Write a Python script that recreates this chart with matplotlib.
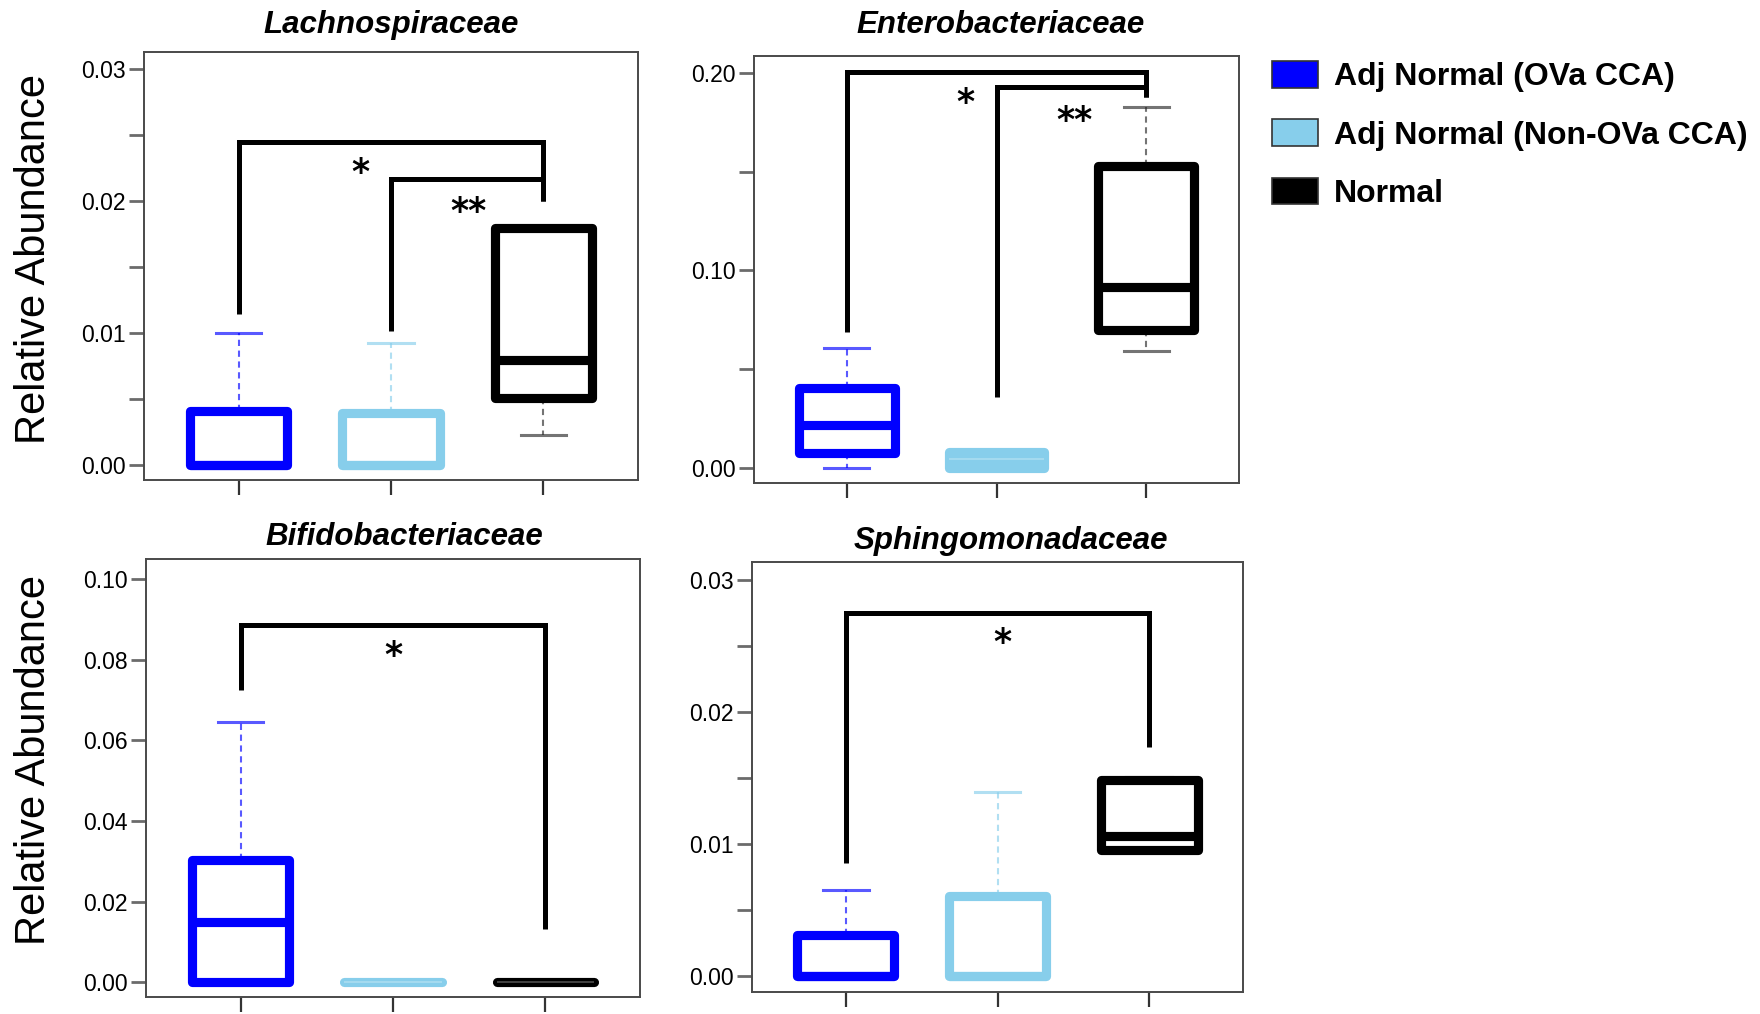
import matplotlib
matplotlib.use("Agg")
import matplotlib.pyplot as plt
from matplotlib.patches import Patch
from matplotlib.colors import to_rgb
from matplotlib.ticker import FixedLocator, FormatStrFormatter

plt.rcParams["font.family"] = ["Liberation Sans", "DejaVu Sans"]

# ---- data -------------------------------------------------------------
groups = ["Adj Normal (OVa CCA)", "Adj Normal (Non-OVa CCA)", "Normal"]
group_colors = ["#0000FF", "#87CEEB", "#000000"]
families = ["Lachnospiraceae", "Enterobacteriaceae",
            "Bifidobacteriaceae", "Sphingomonadaceae"]

# box summaries per family: lower whisker, Q1, median, Q3, upper whisker
lachno_whislo = [0.0, 0.0, 0.0023]
lachno_q1 = [0.0, 0.0, 0.0051]
lachno_med = [0.0, 0.0, 0.0080]
lachno_q3 = [0.0041, 0.0040, 0.0180]
lachno_whishi = [0.0100, 0.0093, 0.0180]

entero_whislo = [0.0, 0.0, 0.059]
entero_q1 = [0.0075, 0.0, 0.070]
entero_med = [0.022, 0.0045, 0.0914]
entero_q3 = [0.0405, 0.008, 0.153]
entero_whishi = [0.061, 0.008, 0.183]

bifido_whislo = [0.0, 0.0, 0.0]
bifido_q1 = [0.0, 0.0, 0.0]
bifido_med = [0.015, 0.0, 0.0]
bifido_q3 = [0.0304, 0.0, 0.0]
bifido_whishi = [0.0646, 0.0, 0.0]

sphingo_whislo = [0.0, 0.0, 0.0096]
sphingo_q1 = [0.0, 0.0, 0.0096]
sphingo_med = [0.0, 0.0, 0.0106]
sphingo_q3 = [0.0031, 0.0061, 0.0149]
sphingo_whishi = [0.0065, 0.0140, 0.0151]

# significance brackets: (left group, right group, left foot, top, right foot)
lachno_brackets = [(1, 3, 0.0115, 0.0245, 0.0200), (2, 3, 0.0102, 0.0217, 0.0200)]
lachno_stars = [("*", 1.80, 0.0228), ("**", 2.51, 0.0198)]
entero_brackets = [(1, 3, 0.069, 0.2006, 0.188), (2, 3, 0.036, 0.193, 0.188)]
entero_stars = [("*", 1.79, 0.189), ("**", 2.52, 0.180)]
bifido_brackets = [(1, 3, 0.0724, 0.0886, 0.0131)]
bifido_stars = [("*", 2.0, 0.083)]
sphingo_brackets = [(1, 3, 0.0086, 0.0275, 0.0174)]
sphingo_stars = [("*", 2.03, 0.0259)]

# axis setup per panel
lachno_major = [0.0, 0.01, 0.02, 0.03]
lachno_minor = [0.005, 0.015, 0.025]
entero_major = [0.0, 0.10, 0.20]
entero_minor = [0.05, 0.15]
bifido_major = [0.0, 0.02, 0.04, 0.06, 0.08, 0.10]
bifido_minor = []
sphingo_major = [0.0, 0.01, 0.02, 0.03]
sphingo_minor = [0.005, 0.015, 0.025]

panels = [
    dict(title=families[0], whislo=lachno_whislo, q1=lachno_q1, med=lachno_med,
         q3=lachno_q3, whishi=lachno_whishi, brackets=lachno_brackets,
         stars=lachno_stars, major=lachno_major, minor=lachno_minor,
         ylim=(-0.0011, 0.0313), rect=(144, 52, 638, 480), title_dx=0.0,
         title_y=25),
    dict(title=families[1], whislo=entero_whislo, q1=entero_q1, med=entero_med,
         q3=entero_q3, whishi=entero_whishi, brackets=entero_brackets,
         stars=entero_stars, major=entero_major, minor=entero_minor,
         ylim=(-0.0076, 0.2086), rect=(754, 56, 1239, 483), title_dx=4,
         title_y=25),
    dict(title=families[2], whislo=bifido_whislo, q1=bifido_q1, med=bifido_med,
         q3=bifido_q3, whishi=bifido_whishi, brackets=bifido_brackets,
         stars=bifido_stars, major=bifido_major, minor=bifido_minor,
         ylim=(-0.0037, 0.105), rect=(146, 559, 640, 997), title_dx=11,
         title_y=537),
    dict(title=families[3], whislo=sphingo_whislo, q1=sphingo_q1, med=sphingo_med,
         q3=sphingo_q3, whishi=sphingo_whishi, brackets=sphingo_brackets,
         stars=sphingo_stars, major=sphingo_major, minor=sphingo_minor,
         ylim=(-0.0012, 0.0314), rect=(752, 562, 1243, 992), title_dx=13,
         title_y=541),
]

W, H = 1760, 1014
fig = plt.figure(figsize=(W / 100, H / 100), dpi=100)


def lighten(c, amt):
    r, g, b = to_rgb(c)
    return (r + (1 - r) * amt, g + (1 - g) * amt, b + (1 - b) * amt)


BOX_LW = 6.6
for p in panels:
    l, t, r, b = p["rect"]
    ax = fig.add_axes([l / W, 1 - b / H, (r - l) / W, (b - t) / H])
    stats = []
    for i in range(3):
        stats.append(dict(med=p["med"][i], q1=p["q1"][i], q3=p["q3"][i],
                          whislo=p["whislo"][i], whishi=p["whishi"][i],
                          fliers=[]))
    art = ax.bxp(stats, positions=[1, 2, 3], widths=0.64, capwidths=0.3,
                 patch_artist=True, showfliers=False)
    yrange = p["ylim"][1] - p["ylim"][0]
    for i, col in enumerate(group_colors):
        box = art["boxes"][i]
        thin = (p["q3"][i] - p["q1"][i]) < 0.05 * yrange
        box.set_facecolor(col if thin else "white")
        box.set_edgecolor(col)
        box.set_linewidth(BOX_LW)
        box.set_joinstyle("round")
        box.set_capstyle("round")
        box.set_zorder(3)
        med = art["medians"][i]
        med.set_color(lighten(col, 0.3) if thin else col)
        med.set_linewidth(BOX_LW if not thin else 1.2)
        med.set_solid_capstyle("butt")
        med.set_zorder(4)
        wcol = col if col != "#000000" else "#2a2a2a"
        for w in art["whiskers"][2 * i:2 * i + 2]:
            w.set_color(wcol)
            w.set_alpha(0.65)
            w.set_linewidth(1.5)
            w.set_linestyle((0, (3, 2.2)))
            w.set_zorder(2)
        for c in art["caps"][2 * i:2 * i + 2]:
            c.set_color(wcol)
            c.set_alpha(0.65)
            c.set_linewidth(2.2)
            c.set_zorder(2)

    for (g1, g2, yl, ytop, yr) in p["brackets"]:
        ax.plot([g1, g1, g2, g2], [yl, ytop, ytop, yr], color="black",
                lw=3.6, solid_joinstyle="miter", solid_capstyle="butt",
                zorder=5)
    for (s, sx, sy) in p["stars"]:
        ax.annotate(s, (sx, sy), xytext=(0, -6), textcoords="offset points",
                    ha="center", va="center", fontsize=25,
                    family="DejaVu Sans", fontweight="bold", color="black",
                    zorder=6)

    ax.set_xlim(0.38, 3.62)
    ax.set_ylim(*p["ylim"])
    ax.yaxis.set_major_locator(FixedLocator(p["major"]))
    ax.yaxis.set_minor_locator(FixedLocator(p["minor"]))
    ax.yaxis.set_major_formatter(FormatStrFormatter("%.2f"))
    ax.set_xticks([1, 2, 3])
    ax.set_xticklabels([])
    ax.tick_params(axis="y", which="both", direction="out", length=11,
                   width=2.0, color="#6b6b6b", labelsize=16.5, pad=2,
                   labelcolor="black")
    ax.tick_params(axis="x", direction="out", length=10.5, width=1.6,
                   color="#333333")
    for sp in ax.spines.values():
        sp.set_color("#4a4a4a")
        sp.set_linewidth(1.4)

    cx = (l + r) / 2 + p["title_dx"]
    fig.text(cx / W, 1 - p["title_y"] / H, p["title"], ha="center",
             va="center", fontsize=22.5, fontweight="bold", style="italic")

# shared y labels for each row
fig.text(34 / W, 1 - 259 / H, "Relative Abundance", rotation=90,
         ha="center", va="center", fontsize=30)
fig.text(34 / W, 1 - 760 / H, "Relative Abundance", rotation=90,
         ha="center", va="center", fontsize=30)

handles = [Patch(facecolor=c, edgecolor="#333333", linewidth=1.2)
           for c in group_colors]
fig.legend(handles, groups, loc="upper left",
           bbox_to_anchor=(1272 / W, 1 - 61 / H), frameon=False,
           prop=dict(family="Liberation Sans", weight="bold", size=23),
           handlelength=1.45, handleheight=0.9, handletextpad=0.5,
           labelspacing=0.85, borderpad=0.0, borderaxespad=0.0)

fig.savefig("out.png", dpi=100)
